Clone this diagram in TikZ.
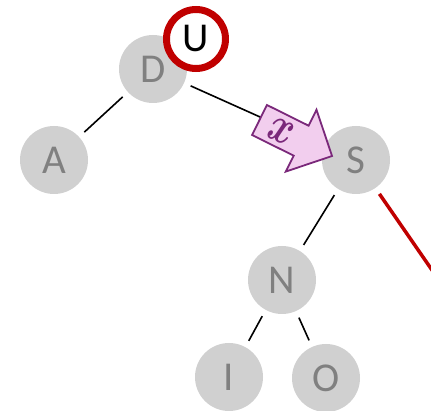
\documentclass[tikz,border=0pt]{standalone}
\usepackage{fontspec}
\setmainfont{Carlito}
\begin{document}
\begin{tikzpicture}[x=1pt,y=-1pt,
  vertex/.style={circle, fill=nodegray, text=lettergray, minimum size=68pt, inner sep=0pt,
    font=\fontsize{41}{41}\selectfont},
  edge/.style={line width=1.6pt, shorten <=7pt, shorten >=7pt},
  hilite/.style={circle, draw=ringred, line width=7pt, fill=white, minimum size=59pt,
    inner sep=0pt, text=black, font=\fontsize{41}{41}\selectfont},
  rotarrow/.style={draw=arrowpurple, fill=arrowpink, line width=1.8pt, line join=miter}
]
\definecolor{nodegray}{RGB}{208,208,208}
\definecolor{lettergray}{RGB}{128,128,128}
\definecolor{ringred}{RGB}{192,0,0}
\definecolor{arrowpurple}{RGB}{122,40,122}
\definecolor{arrowpink}{RGB}{242,206,238}
\useasboundingbox (0,0) rectangle (431,411);
\clip (0,0) rectangle (431,411);

% tree nodes
\node[vertex] (D) at (153,69) {D};
\node[vertex] (A) at (54,160) {A};
\node[vertex] (S) at (356,160) {S};
\node[vertex] (N) at (282,280) {N};
\node[vertex] (I) at (229,377) {I};
\node[vertex] (O) at (326,378) {O};
\coordinate (off) at (443,286);

% edges
\draw[edge] (D) -- (A);
\draw[edge] (D) -- (S);
\draw[edge] (S) -- (N);
\draw[edge] (N) -- (I);
\draw[edge] (N) -- (O);
\draw[line width=3.5pt, ringred, shorten <=7pt] (S) -- (off);

% highlighted node U
\node[hilite] (U) at (196,39) {U};

% rotation arrow pointing at S
\begin{scope}[shift={(259.5,120)}, rotate=-26.4]
  \draw[rotarrow] (0,16.75) -- (46.5,16.75) -- (46.5,34.5) -- (81,0)
    -- (46.5,-34.5) -- (46.5,-16.75) -- (0,-16.75) -- cycle;
\end{scope}
\node[text=arrowpurple, rotate=-24, inner sep=0pt] (xlab) at (281,131) {\scalebox{3.7}[5]{\boldmath$x$}};
\end{tikzpicture}
\end{document}
